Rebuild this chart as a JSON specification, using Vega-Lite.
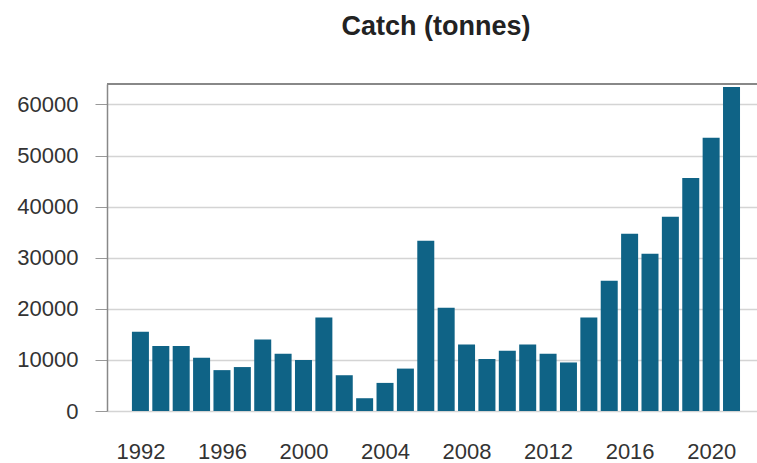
{
  "$schema": "https://vega.github.io/schema/vega-lite/v6.json",
  "width": 650,
  "height": 327,
  "autosize": "none",
  "padding": {"left": 107, "top": 84, "right": 0, "bottom": 52},
  "background": "white",
  "config": {
    "view": {"stroke": null},
    "font": "Liberation Sans"
  },
  "title": {
    "text": "Catch (tonnes)",
    "font": "Liberation Sans",
    "fontSize": 27,
    "fontWeight": "bold",
    "color": "#222",
    "anchor": "middle",
    "offset": 21,
    "dx": 4,
    "baseline": "alphabetic"
  },
  "data": {
    "values": [
      {"year": 1992, "catch": 15500},
      {"year": 1993, "catch": 12700},
      {"year": 1994, "catch": 12700},
      {"year": 1995, "catch": 10400},
      {"year": 1996, "catch": 8000},
      {"year": 1997, "catch": 8600},
      {"year": 1998, "catch": 14000},
      {"year": 1999, "catch": 11200},
      {"year": 2000, "catch": 10000},
      {"year": 2001, "catch": 18300},
      {"year": 2002, "catch": 7000},
      {"year": 2003, "catch": 2500},
      {"year": 2004, "catch": 5500},
      {"year": 2005, "catch": 8300},
      {"year": 2006, "catch": 33300},
      {"year": 2007, "catch": 20200},
      {"year": 2008, "catch": 13000},
      {"year": 2009, "catch": 10200},
      {"year": 2010, "catch": 11800},
      {"year": 2011, "catch": 13000},
      {"year": 2012, "catch": 11200},
      {"year": 2013, "catch": 9500},
      {"year": 2014, "catch": 18300},
      {"year": 2015, "catch": 25500},
      {"year": 2016, "catch": 34700},
      {"year": 2017, "catch": 30800},
      {"year": 2018, "catch": 38000},
      {"year": 2019, "catch": 45600},
      {"year": 2020, "catch": 53500},
      {"year": 2021, "catch": 63400}
    ]
  },
  "layer": [
    {
      "mark": {"type": "bar", "color": "#0f6386", "size": 17},
      "encoding": {
        "x": {
          "field": "year",
          "type": "quantitative",
          "scale": {"domain": [1990.36, 2022.25], "nice": false, "zero": false, "padding": 0},
          "axis": {
            "title": null,
            "values": [1992, 1996, 2000, 2004, 2008, 2012, 2016, 2020],
            "format": "d",
            "domain": false,
            "ticks": false,
            "grid": false,
            "labelFontSize": 22,
            "labelColor": "#333",
            "labelPadding": 30,
            "labelFont": "Liberation Sans"
          }
        },
        "y": {
          "field": "catch",
          "type": "quantitative",
          "scale": {"domain": [0, 64000], "nice": false},
          "axis": {
            "title": null,
            "values": [0, 10000, 20000, 30000, 40000, 50000, 60000],
            "format": "d",
            "domainColor": "#888",
            "domainWidth": 1.5,
            "tickSize": 12,
            "tickColor": "#999",
            "gridColor": "#d4d4d4",
            "gridWidth": 1.5,
            "labelFontSize": 22,
            "labelColor": "#333",
            "labelPadding": 17,
            "labelFont": "Liberation Sans"
          }
        }
      }
    },
    {
      "mark": {"type": "rule", "color": "#888", "strokeWidth": 1.5},
      "encoding": {"y": {"datum": 64000, "type": "quantitative"}}
    }
  ]
}
